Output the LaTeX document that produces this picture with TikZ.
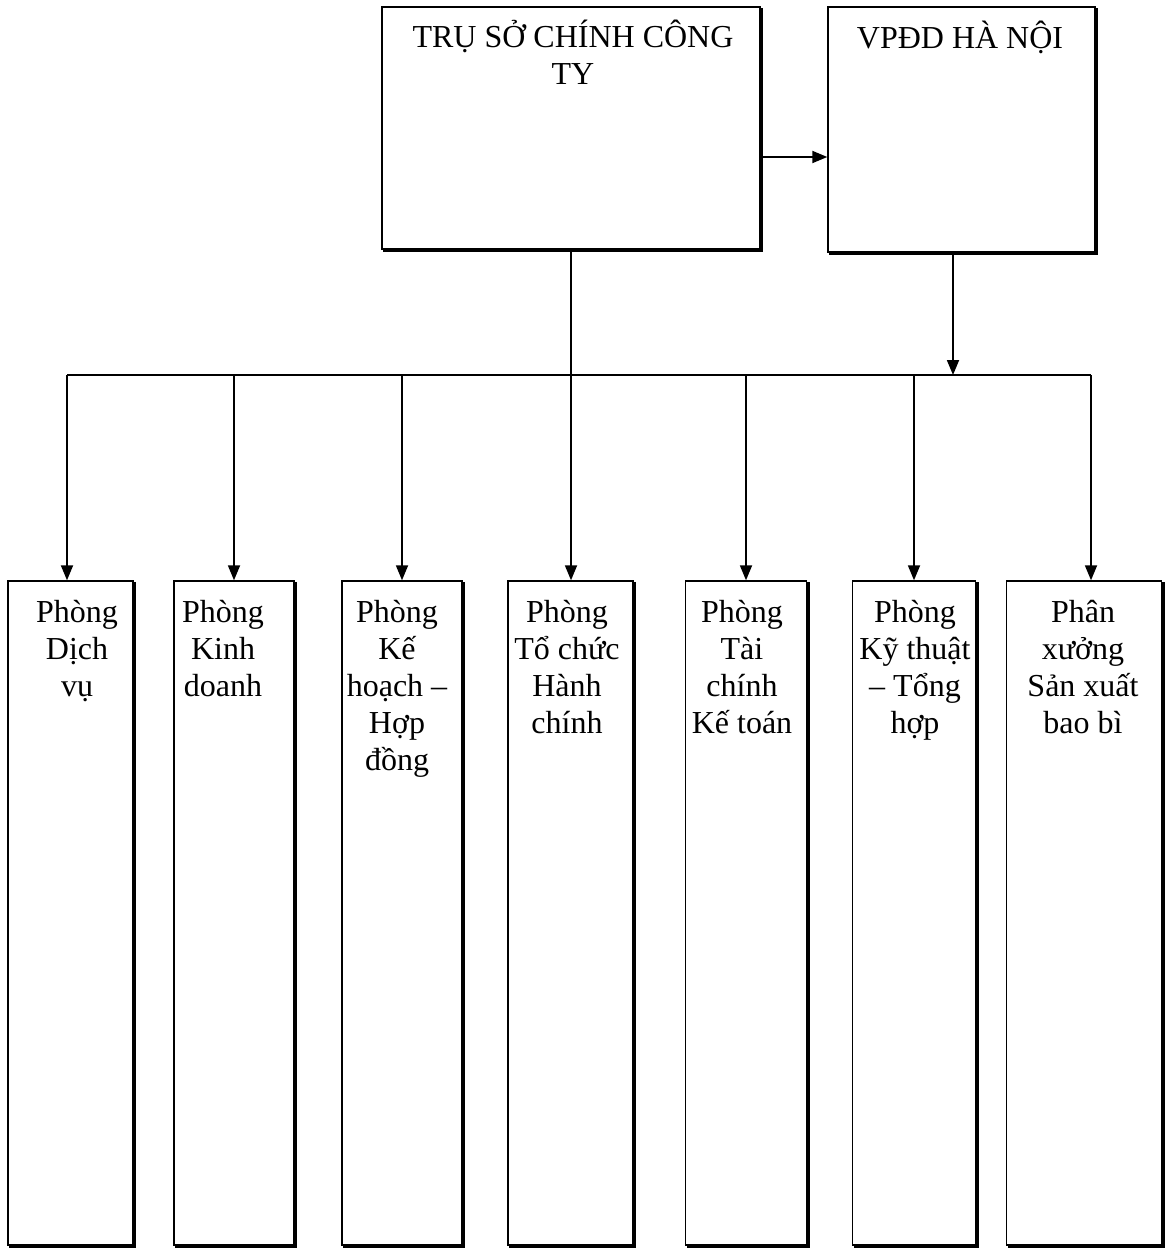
\documentclass[tikz,border=0pt]{standalone}
\usepackage{fontspec}
\setmainfont{Liberation Serif}
\usetikzlibrary{arrows.meta}
\begin{document}
\begin{tikzpicture}[x=1pt,y=-1pt,
  box/.style={draw, line width=1.4pt, inner sep=0pt, rectangle},
  lbl/.style={font=\fontsize{32}{37}\selectfont, align=center, anchor=base, inner sep=0pt},
  arr/.style={line width=1.8pt, -{Triangle[length=15pt,width=12pt]}},
  ln/.style={line width=1.8pt},
  shade/.style={line width=2.6pt, line join=miter}]
\useasboundingbox[fill=white] (0,0) rectangle (1165,1249);

% top boxes
\node[box, minimum width=378pt, minimum height=242pt] (hq) at (571,128) {};
\node[box, minimum width=267pt, minimum height=245pt] (vp) at (961.5,129.5) {};
% bottom boxes
\node[box, minimum width=125pt, minimum height=664pt] (b1) at (70.5,913) {};
\node[box, minimum width=120pt, minimum height=664pt] (b2) at (234,913) {};
\node[box, minimum width=120pt, minimum height=664pt] (b3) at (402,913) {};
\node[box, minimum width=125pt, minimum height=664pt] (b4) at (570.5,913) {};
\node[box, minimum width=121pt, minimum height=664pt] (b5) at (746,913) {};
\node[box, minimum width=123pt, minimum height=664pt] (b6) at (914,913) {};
\node[box, minimum width=155pt, minimum height=664pt] (b7) at (1084,913) {};

\foreach \n in {hq,vp,b1,b2,b3,b4,b5,b6,b7}
  \draw[shade] ([shift={(1.2pt,-2pt)}]\n.north east) -- ([shift={(1.2pt,-1.2pt)}]\n.south east) -- ([shift={(2pt,-1.2pt)}]\n.south west);

% labels (anchor base = baseline of the last line)
\node[lbl] (thq) at (573,85) {TRỤ SỞ CHÍNH CÔNG\\TY};
\node[lbl] (tvp) at (960,49) {VPĐD HÀ NỘI};
\node[lbl] (t1) at (77,696) {Phòng\\Dịch\\vụ};
\node[lbl] (t2) at (223,696) {Phòng\\Kinh\\doanh};
\node[lbl] (t3) at (397,770) {Phòng\\Kế\\hoạch –\\Hợp\\đồng};
\node[lbl] (t4) at (567,733) {Phòng\\Tổ chức\\Hành\\chính};
\node[lbl] (t5) at (742,733) {Phòng\\Tài\\chính\\Kế toán};
\node[lbl] (t6) at (915,733) {Phòng\\Kỹ thuật\\– Tổng\\hợp};
\node[lbl] (t7) at (1083,733) {Phân\\xưởng\\Sản xuất\\bao bì};

% connectors
\coordinate (a1) at (0,157);
\coordinate (vpd) at (953,0);
\coordinate (busL) at (67,375);
\coordinate (busR) at (1091,375);

\draw[arr] (hq.east |- a1) -- (vp.west |- a1);
\draw[arr] (hq.south) -- (hq.south |- b4.north);
\draw[arr] (vp.south -| vpd) -- (vpd |- busL);
\draw[ln] (busL) -- (busR);
\draw[arr] (busL) -- (busL |- b1.north);
\draw[arr] (b2.north |- busL) -- (b2.north);
\draw[arr] (b3.north |- busL) -- (b3.north);
\draw[arr] (b5.north |- busL) -- (b5.north);
\draw[arr] (b6.north |- busL) -- (b6.north);
\draw[arr] (busR) -- (busR |- b7.north);
\end{tikzpicture}
\end{document}
